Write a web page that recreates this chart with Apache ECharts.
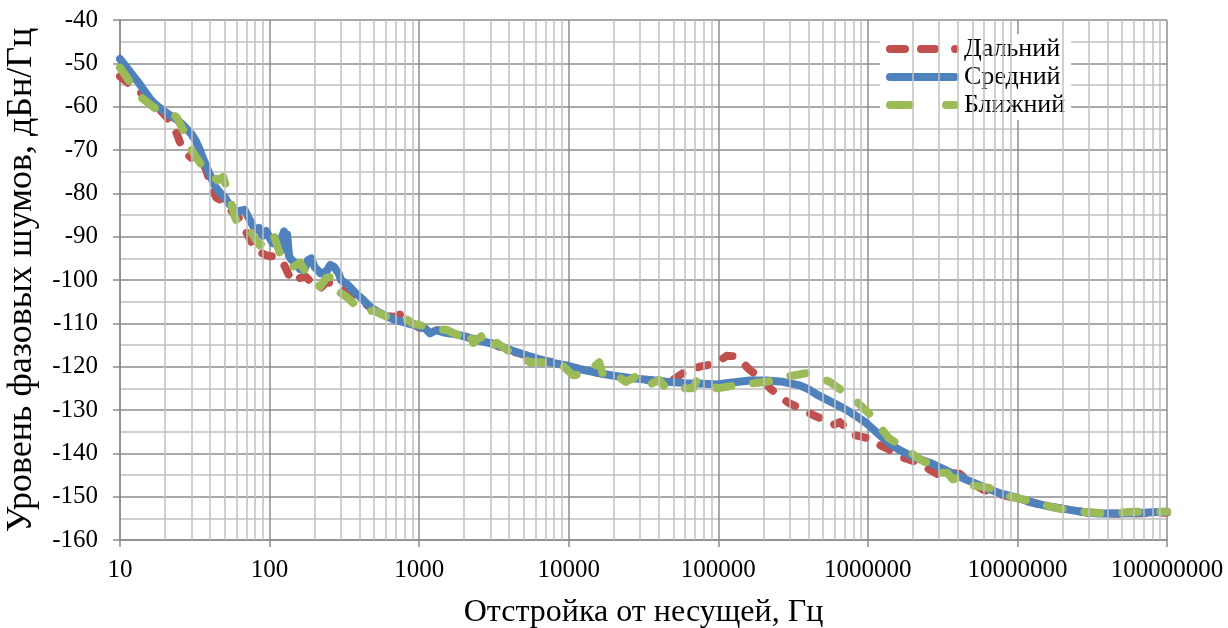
<!DOCTYPE html>
<html>
<head>
<meta charset="utf-8">
<script src="https://cdn.jsdelivr.net/npm/echarts@6/dist/echarts.min.js"></script>
<style>html,body{margin:0;padding:0;background:#fff}#c{width:1228px;height:628px}</style>
</head>
<body>
<div id="c"></div>
<script>
// ---- data ----
const seriesNames = ['Дальний', 'Средний', 'Ближний'];
const xTickLabels = ['10','100','1000','10000','100000','1000000','10000000','100000000'];

const farFreq = [10,11,12,13,14,15,16,17,18,20,22,24,26,28,30,32,34,36,38,40,42,44,47,50,54,57,60,65,70,75,80,86,93,100,110,120,125,135,143,150,160,175,190,205,220,240,265,290,320,360,420,500,600,700,760,850,1000,1150,1300,1600,2000,2500,3000,3500,4200,5000,6000,7000,8500,10000,13000,16000,20000,27000,35000,44000,50000,58000,65000,75000,90000,100000,114000,130000,140000,163000,190000,222000,260000,300000,350000,420000,490000,580000,650000,700000,800000,1000000,1150000,1400000,1650000,2200000,2600000,3000000,3500000,4100000,5000000,6000000,7200000,10000000,15000000,20000000,30000000,50000000,70000000,100000000];
const farLevel = [-53,-54.2,-55.3,-56,-57,-58,-58.8,-59.3,-60.3,-62,-63.8,-66.3,-69.5,-71,-71.8,-70.5,-71.5,-73,-75,-77.5,-79.5,-81,-81.5,-82,-83.5,-84.5,-85,-86.5,-89,-91,-93,-93.5,-94.2,-94.5,-94.5,-95.5,-96.5,-99,-100.5,-100.3,-99.5,-99.3,-100.5,-102,-101.8,-100.5,-100.8,-101.5,-102.5,-103.5,-105,-107,-108.3,-108.5,-107.8,-109.5,-111,-110.8,-111.5,-112,-113,-114,-114.5,-115.5,-116.5,-117.2,-118,-118.7,-119.2,-120,-120.8,-121.5,-122.2,-122.8,-123.2,-123.5,-123,-121.5,-120.8,-120,-119.5,-118.8,-117.5,-117.6,-118.5,-120.8,-122.5,-125,-127,-128.5,-129.5,-131,-132,-133.5,-132.8,-133.8,-135.7,-136.5,-137.8,-139.2,-140.8,-142.2,-143.8,-145,-144.5,-144.7,-147,-148.5,-149.2,-150.5,-152,-152.8,-153.7,-154,-153.8,-153.7];

const midFreq = [10,11,12,13,14,15,16,17,18,20,22,24,26,28,30,32,34,36,38,40,42,44,47,50,53,56,60,64,68,72,76,80,85,90,95,100,105,110,115,120,125,128,131,135,140,150,160,170,180,190,200,220,240,255,270,290,300,330,370,420,470,520,600,700,800,900,1000,1100,1180,1300,1500,1800,2100,2500,3000,3500,4200,5000,5700,7000,8000,9600,12000,16000,20000,27000,35000,45000,60000,75000,98000,120000,163000,210000,270000,350000,400000,460000,560000,680000,760000,870000,990000,1200000,1400000,1640000,2000000,2700000,3500000,4500000,6000000,7600000,10000000,13000000,17000000,22000000,28000000,35000000,45000000,60000000,80000000,100000000];
const midLevel = [-49,-50.8,-52.5,-54,-55.5,-57,-58.3,-59.3,-60,-61.2,-62.2,-63,-64,-65.2,-66.3,-67.8,-69.8,-72,-74,-75.8,-77.5,-78.8,-80,-80.8,-82.3,-83,-84.5,-84,-83.8,-85.5,-87,-88.5,-88,-89.8,-88.7,-90.2,-91.5,-90.5,-92.3,-90.5,-88.8,-93,-89.5,-94.5,-95.3,-96.3,-97.5,-97.8,-95.5,-95,-97,-98.5,-98,-96.5,-97,-98.5,-100,-101,-102.8,-104.5,-106.2,-107.2,-108.3,-109.3,-109.8,-110.3,-110.8,-111.2,-112.3,-111.6,-112.2,-112.6,-113.2,-114,-114.6,-115.3,-116.3,-117.2,-117.8,-118.7,-119.2,-119.7,-120.6,-121.5,-122.1,-122.7,-123.1,-123.5,-123.8,-123.9,-124.1,-123.7,-123.2,-123.2,-123.5,-124.3,-125.2,-126.5,-128,-129.5,-130.5,-131.8,-133.2,-135.8,-137.8,-139.3,-140.8,-142.4,-144.3,-146,-147.8,-149.2,-150.3,-151.5,-152.4,-153,-153.6,-153.9,-153.9,-153.8,-153.6,-153.5];

const nearFreq = [10,11,12.2,14,17,20,22,24,27,29.3,32,36,40,45,49,54,58,62,68,74,80,86,95,105,115,123,143,160,180,200,217,240,265,280,330,380,445,490,610,780,900,1120,1320,1530,1680,1900,2100,2300,2600,2900,3300,4000,4500,5500,7000,9000,10700,13000,16000,17000,20000,24000,28000,33000,40000,45000,50000,68000,72000,98000,139000,210000,285000,390000,555000,795000,1050000,1380000,1850000,2100000,2400000,2700000,3000000,3400000,3700000,4200000,4800000,6500000,9000000,13000000,18000000,27000000,36000000,42000000,60000000,100000000];
const nearLevel = [-51,-53,-55.5,-58,-60.3,-61,-61.5,-62.5,-66,-69.3,-71.5,-74,-75.5,-77,-76.2,-81,-85,-87.5,-88,-88.5,-90.5,-92,-90.5,-89,-93,-95.8,-97,-96,-99,-100,-101.6,-99.5,-99.3,-102.3,-104,-106,-107.6,-107,-108.5,-108.5,-110,-110.8,-111.5,-111.5,-112.2,-113,-111.5,-114.5,-113,-116,-114.5,-116.5,-117.3,-119,-119,-119.6,-122,-121.5,-119,-122,-121.5,-123.5,-122.3,-124.6,-123,-125,-125,-125,-123,-125,-124.2,-123.5,-122.3,-121.5,-123.5,-127.3,-131.2,-136.5,-139.2,-140.8,-142,-142.2,-144.5,-144.5,-146,-145.4,-147.3,-148,-150,-151.2,-152.6,-153.5,-153.8,-153.8,-153.5,-153.5];

const zip = (xs, ys) => xs.map((x, i) => [x, ys[i]]);

// minor grid positions (2..9 per decade)
const minorX = [];
for (let e = 1; e < 8; e++) for (let k = 2; k <= 9; k++) minorX.push(k * Math.pow(10, e));

const F = '"Liberation Serif", "Times New Roman", "DejaVu Serif", serif';
const majorColor = '#8c8c8c';
const minorColor = '#c0c0c0';
const colors = ['#C0504D', '#4F81BD', '#9BBB59'];

// legend line samples (rounded dashes in a 73 x 8 box)
function seg(x0, x1) {
  const r = 4;
  return 'M' + (x0 + r) + ',0 H' + (x1 - r) + ' A4,4 0 0 1 ' + (x1 - r) + ',8 H' + (x0 + r) + ' A4,4 0 0 1 ' + (x0 + r) + ',0 Z ';
}
const legendIcons = [
  'path://' + seg(0, 23) + seg(31, 53) + seg(65, 73),
  'path://' + seg(0, 73),
  'path://' + seg(0, 28) + seg(56, 73)
];

const lineW = 8;
const chart = echarts.init(document.getElementById('c'), null, {renderer: 'canvas'});
chart.setOption({
  animation: false,
  backgroundColor: '#ffffff',
  textStyle: {fontFamily: F, color: '#000'},
  grid: {left: 120, right: 61, top: 20, bottom: 88, containLabel: false, outerBoundsMode: 'none'},
  legend: {
    orient: 'vertical', left: 880, top: 34,
    data: seriesNames.map((n, i) => ({name: n, icon: legendIcons[i]})),
    itemWidth: 73, itemHeight: 8, itemGap: 2,
    backgroundColor: '#ffffff', padding: [2, 6, 2, 6],
    textStyle: {fontFamily: F, fontSize: 26, color: '#000'}
  },
  xAxis: {
    type: 'log', logBase: 10, min: 10, max: 100000000, splitNumber: 7,
    axisLine: {show: true, lineStyle: {color: majorColor, width: 1.5}},
    axisTick: {show: true, length: 7, lineStyle: {color: majorColor, width: 1.5}},
    axisLabel: {fontFamily: F, fontSize: 25, color: '#000', margin: 18,
      formatter: v => xTickLabels[Math.round(Math.log10(v)) - 1]},
    splitLine: {show: true, lineStyle: {color: majorColor, width: 1.5}},
    name: 'Отстройка от несущей, Гц', nameLocation: 'middle', nameGap: 57,
    nameTextStyle: {fontFamily: F, fontSize: 32, color: '#000'}
  },
  yAxis: {
    type: 'value', min: -160, max: -40, interval: 10,
    axisLine: {show: true, lineStyle: {color: majorColor, width: 1.5}},
    axisTick: {show: true, length: 7, lineStyle: {color: majorColor, width: 1.5}},
    axisLabel: {fontFamily: F, fontSize: 25, color: '#000', margin: 22},
    splitLine: {show: true, lineStyle: {color: majorColor, width: 1.5}},
    minorTick: {show: false, splitNumber: 2},
    minorSplitLine: {show: true, lineStyle: {color: minorColor, width: 1.5}},
    name: 'Уровень фазовых шумов, дБн/Гц', nameLocation: 'middle', nameGap: 80,
    nameTextStyle: {fontFamily: F, fontSize: 36, color: '#000'}
  },
  series: [
    {
      type: 'line', name: '_grid', data: [], z: 1, silent: true, legendHoverLink: false,
      markLine: {
        silent: true, symbol: 'none', label: {show: false}, animation: false,
        lineStyle: {color: minorColor, width: 1.5, type: 'solid'},
        data: minorX.map(v => ({xAxis: v}))
      }
    },
    {
      type: 'line', name: seriesNames[0], data: zip(farFreq, farLevel), z: 2,
      showSymbol: false, symbol: 'none', color: colors[0],
      lineStyle: {width: lineW, color: colors[0], type: [10, 17], cap: 'round', join: 'round'}
    },
    {
      type: 'line', name: seriesNames[1], data: zip(midFreq, midLevel), z: 3,
      showSymbol: false, symbol: 'none', color: colors[1],
      lineStyle: {width: lineW, color: colors[1], type: 'solid', cap: 'round', join: 'round'}
    },
    {
      type: 'line', name: seriesNames[2], data: zip(nearFreq, nearLevel), z: 4,
      showSymbol: false, symbol: 'none', color: colors[2],
      lineStyle: {width: lineW, color: colors[2], type: [16, 22], cap: 'round', join: 'round'}
    }
  ]
});
</script>
</body>
</html>
